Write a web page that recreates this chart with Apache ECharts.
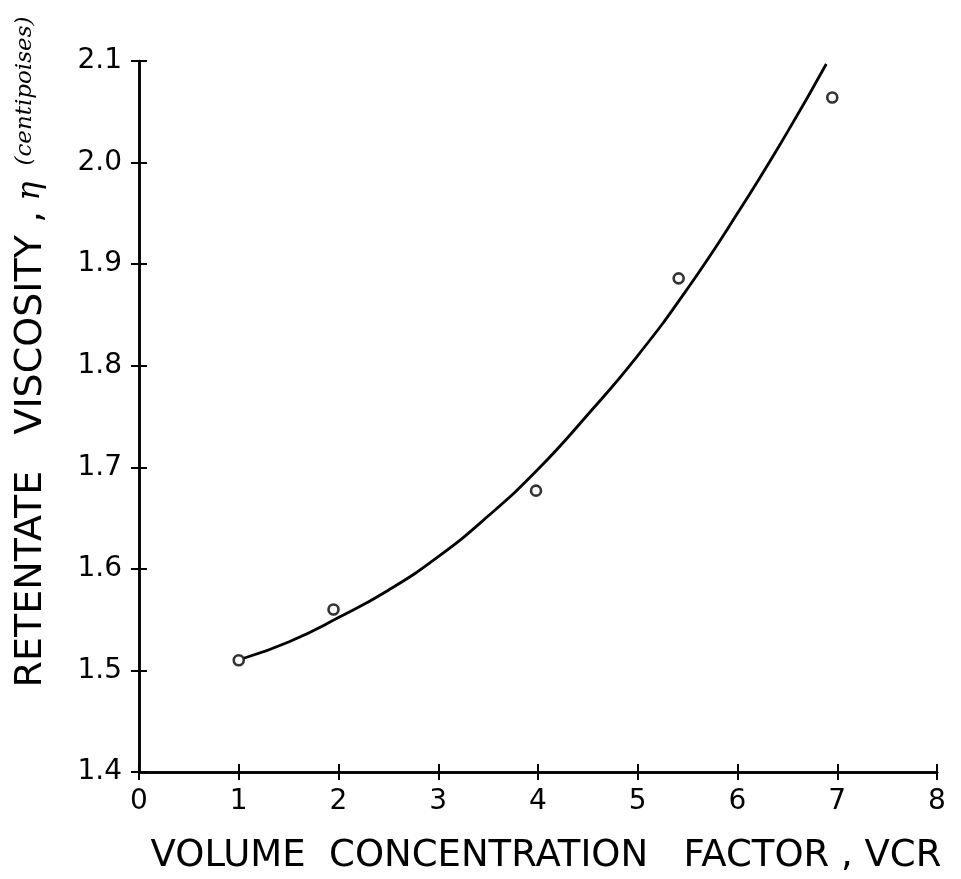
<!DOCTYPE html>
<html>
<head>
<meta charset="utf-8">
<script src="https://cdn.jsdelivr.net/npm/echarts@6/dist/echarts.min.js"></script>
<style>
  html, body { margin: 0; padding: 0; background: #fff; }
  #chart { width: 961px; height: 879px; }
</style>
</head>
<body>
<div id="chart"></div>
<script>
// Measured retentate viscosity against volume concentration factor
const vcrPoints = [1.0, 1.95, 3.98, 5.41, 6.95];
const viscosityPoints = [1.51, 1.56, 1.677, 1.886, 2.064];

// Hand-drawn fitted curve, read along its length
const curveX = [1.05, 1.5, 2.0, 2.5, 3.0, 3.5, 4.0, 4.5, 5.0, 5.5, 6.0, 6.5, 6.89];
const curveY = [1.512, 1.528, 1.552, 1.579, 1.612, 1.652, 1.698, 1.752, 1.81, 1.876, 1.95, 2.03, 2.097];

const xTicks = [0, 1, 2, 3, 4, 5, 6, 7, 8];
const yTicks = [1.4, 1.5, 1.6, 1.7, 1.8, 1.9, 2.0, 2.1];

const ink = '#000';
const sans = '"DejaVu Sans", "Liberation Sans", sans-serif';
const serif = '"DejaVu Serif", "Liberation Serif", serif';

const chart = echarts.init(document.getElementById('chart'), null, { renderer: 'canvas' });

const xLabel = v => (xTicks.includes(v) ? String(v) : '');
const yLabel = v => {
  const t = yTicks.find(k => Math.abs(k - v) < 1e-6);
  return t === undefined ? '' : t.toFixed(1);
};

// Both grids share exactly the same plotting box
const gridBox = {
  left: 139, right: 24, top: 61, bottom: 107,
  containLabel: false,
  outerBoundsMode: 'none'
};

function axis(extra) {
  return Object.assign({
    type: 'value',
    splitLine: { show: false },
    axisLine: { show: true, onZero: false, lineStyle: { color: ink, width: 2.5 } },
    axisTick: { show: true, length: 8, lineStyle: { color: ink, width: 2 } }
  }, extra);
}

// Inward half of each crossing tick, drawn by a second grid over the first
const innerTick = { show: true, inside: true, length: 8, lineStyle: { color: ink, width: 2 } };

chart.setOption({
  animation: false,
  backgroundColor: '#fff',
  grid: [Object.assign({}, gridBox), Object.assign({}, gridBox)],
  xAxis: [
    axis({
      gridIndex: 0, min: 0, max: 8, interval: 1, position: 'bottom',
      name: 'VOLUME  CONCENTRATION   FACTOR , VCR',
      nameLocation: 'middle',
      nameGap: 66,
      nameTextStyle: { color: ink, fontFamily: sans, fontSize: 37, padding: [0, 0, 0, 16] },
      axisLabel: { color: ink, fontFamily: sans, fontSize: 28, margin: 16, formatter: xLabel }
    }),
    axis({
      gridIndex: 1, min: 0, max: 8, interval: 1, position: 'bottom',
      axisTick: innerTick,
      axisLabel: { show: false }
    })
  ],
  yAxis: [
    axis({
      gridIndex: 0, min: 1.4, max: 2.1, interval: 0.1, position: 'left',
      axisLabel: { color: ink, fontFamily: sans, fontSize: 28, margin: 17, formatter: yLabel }
    }),
    axis({
      gridIndex: 1, min: 1.4, max: 2.1, interval: 0.1, position: 'left',
      axisTick: innerTick,
      axisLabel: { show: false }
    })
  ],
  graphic: [{
    type: 'text',
    x: 31,
    y: 352,
    rotation: Math.PI / 2,
    style: {
      text: '{m|RETENTATE   VISCOSITY ,}{eta| η}{u|(centipoises)}',
      align: 'center',
      verticalAlign: 'middle',
      fill: ink,
      rich: {
        m: { fontFamily: sans, fontSize: 38, fill: ink },
        eta: { fontFamily: serif, fontStyle: 'italic', fontSize: 32, fill: ink },
        u: { fontFamily: serif, fontStyle: 'italic', fontSize: 23, fill: ink, padding: [0, 0, 12, 16] }
      }
    }
  }],
  series: [
    {
      type: 'line',
      xAxisIndex: 0, yAxisIndex: 0,
      data: curveX.map((x, i) => [x, curveY[i]]),
      smooth: true,
      showSymbol: false,
      lineStyle: { color: ink, width: 2.8 },
      z: 2
    },
    {
      type: 'scatter',
      xAxisIndex: 0, yAxisIndex: 0,
      data: vcrPoints.map((x, i) => [x, viscosityPoints[i]]),
      symbol: 'circle',
      symbolSize: 10,
      itemStyle: { color: '#fff', borderColor: ink, borderWidth: 2.6 },
      z: 3
    },
    {
      // invisible copy of the points so the tick grid is laid out
      type: 'scatter',
      xAxisIndex: 1, yAxisIndex: 1,
      data: vcrPoints.map((x, i) => [x, viscosityPoints[i]]),
      symbolSize: 0,
      itemStyle: { opacity: 0 },
      silent: true
    }
  ]
});
</script>
</body>
</html>
